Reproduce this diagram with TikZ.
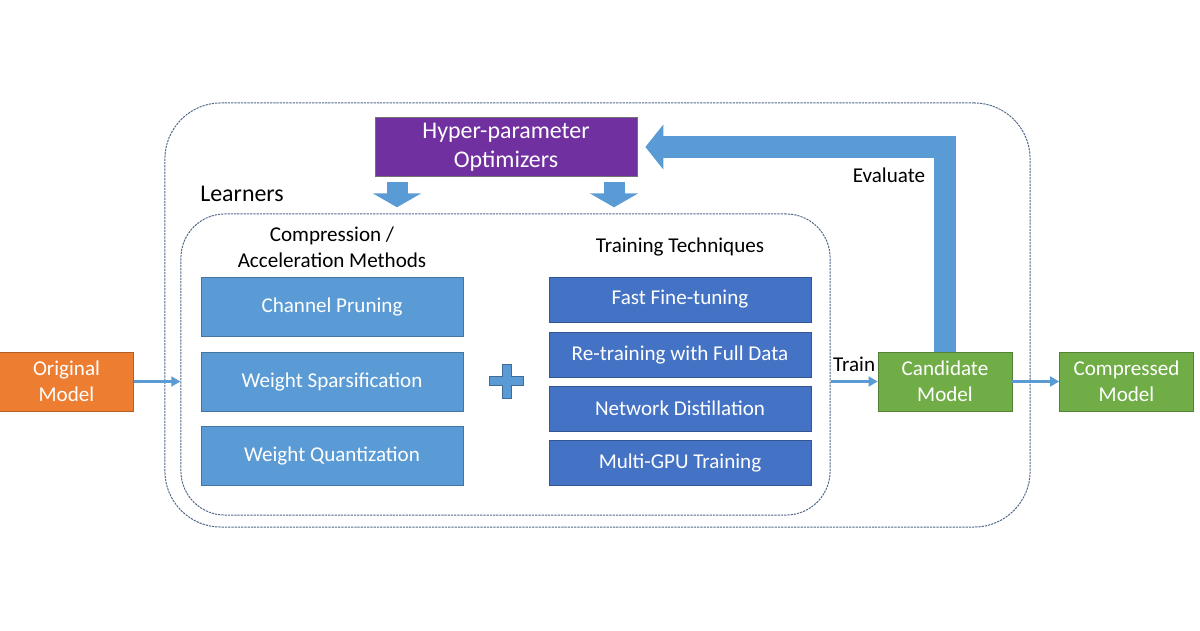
\documentclass[tikz,border=0pt]{standalone}
\usepackage{fontspec}
\setmainfont{Carlito}
\usetikzlibrary{arrows.meta}
\definecolor{origcol}{HTML}{ED7D31}
\definecolor{hypercol}{HTML}{7030A0}
\definecolor{methcol}{HTML}{5B9BD5}
\definecolor{techcol}{HTML}{4472C4}
\definecolor{modelcol}{HTML}{70AD47}
\definecolor{dashcol}{HTML}{4F6888}
\tikzset{
	dashbox/.style={draw=dashcol, dashed, dash pattern=on 1.6pt off 0.7pt, line width=0.7pt},
	fillbox/.style={draw=#1!75!black, fill=#1, text=white, align=center, inner sep=0pt,
			font=\fontsize{15}{18.4}\selectfont},
	methbox/.style={fillbox=methcol, minimum width=6.55cm, minimum height=1.475cm},
	techbox/.style={fillbox=techcol, minimum width=6.55cm, minimum height=1.125cm},
	modelbox/.style={fillbox=#1, minimum width=3.35cm, minimum height=1.475cm},
	plaintext/.style={font=\fontsize{15}{18.4}\selectfont, align=center, inner sep=0pt},
	conn/.style={draw=methcol, line width=2pt, -{Triangle[length=6.5pt, width=7pt]}},
	fat/.style={draw=methcol, line width=#1, -{Triangle[length=0.35cm, width=1.2cm]}}
}

\begin{document}
\begin{tikzpicture}[x=0.025cm, y=-0.025cm]
	\useasboundingbox (0,0) rectangle (1200,630);
	% containers
	\node[dashbox, minimum width=21.625cm, minimum height=10.6cm, rounded corners=1.4cm] (outer) at (597.5,315) {};
	\node[dashbox, minimum width=16.225cm, minimum height=7.525cm, rounded corners=1.1cm] (learn) at (505.5,364.5) {};
	\node[plaintext, font=\fontsize{17}{20}\selectfont, anchor=base west] (learners) at (200,201) {Learners};
	% optimizer
	\node[fillbox=hypercol, draw=black!55, minimum width=6.55cm, minimum height=1.475cm,
		font=\fontsize{17}{20.5}\selectfont] (hyper) at (506,147) {Hyper-parameter\\Optimizers};
	\draw[fat=0.525cm] ([shift={(-109,5.5)}]hyper.south) -- ++(0,25);
	\draw[fat=0.525cm] ([shift={(108,5.5)}]hyper.south) -- ++(0,25);
	% methods
	\node[plaintext] (methods) at (332,247) {Compression /\\Acceleration Methods};
	\node[methbox] (cp) at (332,307) {Channel Pruning};
	\node[methbox] (ws) at (332,381.5) {Weight Sparsification};
	\node[methbox] (wq) at (332,456) {Weight Quantization};
	% plus sign
	\draw[draw=methcol!70!black, line width=7.5pt] (489,381) -- (524,381) (507,364) -- (507,399);
	\draw[draw=methcol, line width=6pt] (489.6,381) -- (523.4,381) (507,364.6) -- (507,398.4);
	% techniques
	\node[plaintext, anchor=base] (techniques) at (680,252) {Training Techniques};
	\node[techbox] (ft) at (680,299.5) {Fast Fine-tuning};
	\node[techbox] (rt) at (680,354.5) {Re-training with Full Data};
	\node[techbox] (nd) at (680,408.5) {Network Distillation};
	\node[techbox] (mg) at (680,463) {Multi-GPU Training};
	% models
	\node[modelbox=origcol] (orig) at (66.5,381.5) {Original\\Model};
	\node[modelbox=modelcol] (cand) at (945,381.5) {Candidate\\Model};
	\node[modelbox=modelcol] (comp) at (1126.5,381.5) {Compressed\\Model};
	\draw[conn] (orig.east) -- (orig.east -| learn.west);
	\draw[conn] (cand.west -| learn.east) -- node[plaintext, above=6pt] (train) {Train} (cand.west);
	\draw[conn] (cand.east) -- (comp.west);
	% feedback
	\draw[fat=0.55cm, -{Triangle[length=0.45cm, width=1.1cm]}, shorten >=0.2cm] (cand.north) |- (hyper.east);
	\node[plaintext, anchor=base] (evaluate) at (889,182) {Evaluate};
\end{tikzpicture}
\end{document}
